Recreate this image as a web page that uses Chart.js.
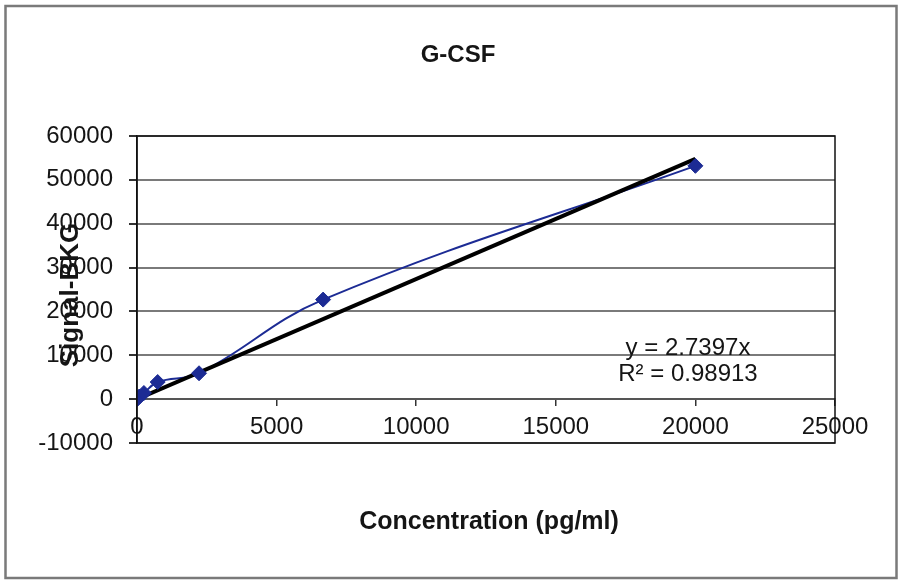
<!DOCTYPE html>
<html>
<head>
<meta charset="utf-8">
<script src="https://cdn.jsdelivr.net/npm/chart.js@4/dist/chart.umd.min.js"></script>
<style>
  html, body { margin: 0; padding: 0; background: #fff; }
  #wrap { width: 902px; height: 581px; position: relative; }
</style>
</head>
<body>
<div id="wrap"><canvas id="chart"></canvas></div>
<script>
// values
const concentrations = [0, 27.4, 82.3, 246.9, 740.7, 2222.2, 6666.7, 20000];
const signals = [0, 200, 600, 1400, 3900, 5900, 22700, 53200];

// linear trendline y = 2.7397x, end points
const trendX = [0, 20000];
const trendY = [0, 54794];

const xTicks = [0, 5000, 10000, 15000, 20000, 25000];
const yTicks = [-10000, 0, 10000, 20000, 30000, 40000, 50000, 60000];

const chartTitle = 'G-CSF';
const xTitle = 'Concentration (pg/ml)';
const yTitle = 'Signal-BKG';
const trendLabel = ['y = 2.7397x', 'R\u00b2 = 0.98913'];

const seriesBlue = '#1c2b94';
const textColor = '#151515';
const fontFamily = '"Liberation Sans", Arial, Helvetica, sans-serif';

const toPoints = (xs, ys) => xs.map((x, i) => ({x: x, y: ys[i]}));

// frame, plot border and all the free text
const decorations = {
    id: 'decorations',
    afterDraw(chart) {
        const ctx = chart.ctx;
        const area = chart.chartArea;
        ctx.save();

        ctx.strokeStyle = '#7a7a7a';
        ctx.lineWidth = 2.5;
        ctx.strokeRect(5.5, 6, 891, 572);

        ctx.strokeStyle = '#111';
        ctx.lineWidth = 1.5;
        ctx.strokeRect(area.left, area.top, area.right - area.left, area.bottom - area.top);

        ctx.fillStyle = textColor;
        ctx.textAlign = 'center';
        ctx.textBaseline = 'middle';

        ctx.font = 'bold 24px ' + fontFamily;
        ctx.fillText(chartTitle, 458, 55);

        ctx.font = 'bold 25px ' + fontFamily;
        ctx.fillText(xTitle, 489, 522);

        ctx.save();
        ctx.translate(71, 295);
        ctx.rotate(-Math.PI / 2);
        ctx.font = 'bold 26px ' + fontFamily;
        ctx.fillText(yTitle, 0, 0);
        ctx.restore();

        ctx.font = '24px ' + fontFamily;
        ctx.fillText(trendLabel[0], 688, 348);
        ctx.fillText(trendLabel[1], 688, 374);

        ctx.restore();
    }
};

new Chart(document.getElementById('chart'), {
    type: 'scatter',
    data: {
        datasets: [{
            label: 'markers',
            data: toPoints(concentrations, signals),
            showLine: false,
            pointStyle: 'rectRot',
            pointRadius: 7.5,
            pointBackgroundColor: seriesBlue,
            pointBorderColor: seriesBlue,
            order: 0
        }, {
            label: 'Linear trend',
            data: toPoints(trendX, trendY),
            showLine: true,
            borderColor: '#000',
            borderWidth: 4,
            pointRadius: 0,
            order: 1
        }, {
            label: chartTitle,
            data: toPoints(concentrations, signals),
            showLine: true,
            borderColor: seriesBlue,
            borderWidth: 2,
            tension: 0.4,
            pointRadius: 0,
            order: 2
        }]
    },
    options: {
        responsive: true,
        maintainAspectRatio: false,
        animation: false,
        layout: {padding: {left: 10, right: 67, top: 136, bottom: 138}},
        plugins: {
            legend: {display: false},
            tooltip: {enabled: false},
            title: {display: false}
        },
        scales: {
            x: {
                type: 'linear',
                position: {y: 0},
                min: 0,
                max: 25000,
                afterBuildTicks: s => { s.ticks = xTicks.map(v => ({value: v})); },
                grid: {drawOnChartArea: false, drawTicks: true, tickLength: 6, tickColor: '#333', lineWidth: 1.5},
                border: {display: true, color: '#555', width: 2},
                ticks: {
                    padding: 8,
                    maxRotation: 0,
                    color: textColor,
                    font: {family: fontFamily, size: 24},
                    callback: v => String(v)
                }
            },
            y: {
                type: 'linear',
                position: 'left',
                min: -10000,
                max: 60000,
                afterBuildTicks: s => { s.ticks = yTicks.map(v => ({value: v})); },
                afterFit: s => { s.width = 127; },
                grid: {color: '#7a7a7a', lineWidth: 2, drawTicks: true, tickLength: 8, tickColor: '#333'},
                border: {display: true, color: '#111', width: 1.5},
                ticks: {
                    padding: 16,
                    color: textColor,
                    font: {family: fontFamily, size: 24},
                    callback: v => String(v)
                }
            }
        }
    },
    plugins: [decorations]
});
</script>
</body>
</html>
